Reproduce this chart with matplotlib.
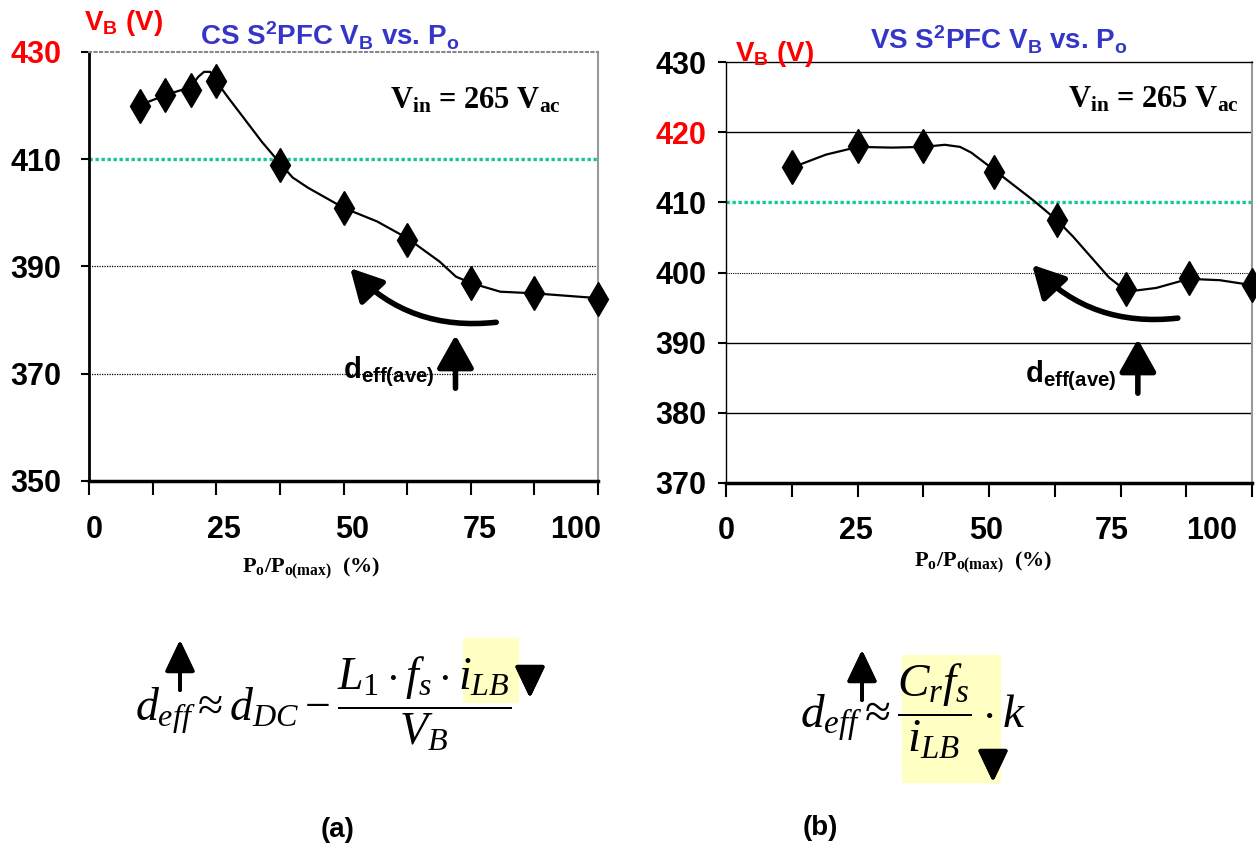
import matplotlib; matplotlib.use("Agg")
import matplotlib.pyplot as plt
from matplotlib.patches import Rectangle

plt.rcParams["font.family"] = ["Liberation Sans", "DejaVu Sans"]
plt.rcParams["mathtext.fontset"] = "custom"
plt.rcParams["mathtext.rm"] = "Liberation Serif"
plt.rcParams["mathtext.it"] = "Liberation Serif:italic"
plt.rcParams["mathtext.bf"] = "Liberation Serif:bold"
plt.rcParams["mathtext.sf"] = "Liberation Sans:bold"

W, H = 1256, 849
RED, BLUE, TEAL, YEL = "#FF0000", "#3535C8", "#12C79A", "#FFFFC4"

# ---- data ----
# (a) CS S2PFC: measured points and the drawn curve
cs_x = [10, 15, 20, 25, 37.5, 50, 62.5, 75, 87.5, 100]
cs_vb = [420, 422, 423, 424.5, 409, 401, 395, 387, 385, 384]
cs_line_x = [10, 15.1, 19.8, 21.5, 22.6, 23.8, 24.8, 27.5, 30.4, 34, 37.5, 40, 43, 50.1,
             56.6, 62.5, 68.9, 72.1, 75.1, 80.8, 87.4, 100]
cs_line_vb = [420.1, 422.0, 423.4, 425.4, 426.3, 426.3, 424.8, 421.3, 417.7, 413.2, 409.3, 406.6,
              404.7, 400.9, 398.4, 395.3, 390.9, 388.1, 386.9, 385.3, 385.0, 384.1]
cs_yticks = [350, 370, 390, 410, 430]

# (b) VS S2PFC
vs_x = [12.5, 25, 37.5, 51, 63, 76, 88, 100]
vs_vb = [415, 418, 418, 414.3, 407.5, 397.6, 399.2, 398.2]
vs_line_x = [12.7, 19, 25.1, 31.6, 37.5, 41.6, 44.5, 46.6, 48.9, 51.5, 58.4, 63, 66, 72.8,
             75, 77.6, 81.8, 88, 93.9, 100]
vs_line_vb = [415.0, 416.8, 417.9, 417.8, 417.9, 418.2, 417.9, 417.1, 415.8, 414.3, 410.3, 407.4,
              405.1, 399.3, 398.0, 397.4, 397.8, 399.1, 398.9, 398.2]
vs_yticks = [370, 380, 390, 400, 410, 420, 430]

x_ticks = [0, 12.5, 25, 37.5, 50, 62.5, 75, 87.5, 100]
x_labels = ["0", "25", "50", "75", "100"]
cs_label_pos = [1, 26.5, 51.7, 76.8, 95.7]
vs_label_pos = [0, 24.7, 49.4, 73.4, 92.4]
target_vb = 410

def fx(px): return px / W
def fy(py): return 1 - py / H

fig = plt.figure(figsize=(12.56, 8.49), dpi=100)

def panel(rect, x, y, lx, ly, ylim, yticks, red_tick, label_pos, ypad):
    ax = fig.add_axes(rect)
    ax.set_xlim(0, 100); ax.set_ylim(*ylim)
    ax.plot(lx, ly, color="black", lw=1.6, zorder=3, clip_on=False)
    ax.plot(x, y, ls="none", marker="d", ms=17, color="black", zorder=4, clip_on=False)
    ax.axhline(target_vb, color=TEAL, lw=2.4, ls=(0, (1, 0.8)), zorder=2)
    ax.set_xticks(x_ticks); ax.set_xticklabels([])
    ax.set_yticks(yticks)
    ax.set_yticklabels([str(t) for t in yticks], fontsize=22, fontweight="bold")
    for lab, t in zip(ax.get_yticklabels(), yticks):
        if t == red_tick: lab.set_color(RED)
    ax.tick_params(axis="x", direction="out", length=10, width=1.5)
    ax.tick_params(axis="y", direction="out", length=6, width=1.5, pad=ypad)
    for p, s in zip(label_pos, x_labels):
        ax.text(p, -0.115, s, transform=ax.get_xaxis_transform(), ha="center", va="center",
                fontsize=22, fontweight="bold")
    ax.spines["bottom"].set_linewidth(2.5)
    ax.spines["right"].set_color("#999999"); ax.spines["right"].set_linewidth(1.5)
    return ax

curved = dict(arrowstyle="-|>,head_length=0.75,head_width=0.4", lw=4, color="black",
              connectionstyle="arc3,rad=-0.25", shrinkA=0, shrinkB=0, mutation_scale=26)
straight = dict(arrowstyle="-|>,head_length=0.8,head_width=0.45", lw=4, color="black",
                shrinkA=0, shrinkB=0, mutation_scale=25)

# ---- (a) CS S2PFC ----
ax1 = panel([fx(89), fy(481), (598 - 89) / W, (481 - 52) / H], cs_x, cs_vb, cs_line_x, cs_line_vb,
            (350, 430), cs_yticks, 430, cs_label_pos, 14)
ax1.spines["left"].set_linewidth(2)
ax1.spines["top"].set_color("#888888"); ax1.spines["top"].set_linestyle(":"); ax1.spines["top"].set_linewidth(1.5)
for g in (390, 370):
    ax1.axhline(g, color="black", lw=0.9, ls=(0, (1, 1)), zorder=1)
ax1.annotate("", xy=(51.3, 389.7), xytext=(80, 379.6), arrowprops=curved)
ax1.annotate("", xy=(72, 377.2), xytext=(72, 367.3), arrowprops=straight)
ax1.text(49.9, 370.3, r"d$\mathsf{_{eff(ave)}}$", fontsize=21, fontweight="bold", ha="left", va="center")
ax1.text(59.1, 421, r"$\mathbf{V_{in}}$ = 265 $\mathbf{V_{ac}}$", family="Liberation Serif",
         fontsize=22, fontweight="bold", ha="left", va="center")

# ---- (b) VS S2PFC ----
ax2 = panel([fx(726), fy(483), (1252 - 726) / W, (483 - 62) / H], vs_x, vs_vb, vs_line_x, vs_line_vb,
            (370, 430), vs_yticks, 420, vs_label_pos, 8)
ax2.spines["left"].set_linewidth(1)
ax2.spines["top"].set_linewidth(1)
for g in (420, 390, 380):
    ax2.axhline(g, color="black", lw=1, zorder=1)
ax2.axhline(400, color="black", lw=0.8, ls=(0, (1, 1)), zorder=1)
ax2.annotate("", xy=(58.2, 401.1), xytext=(85.9, 393.5), arrowprops=curved)
ax2.annotate("", xy=(78.3, 390.5), xytext=(78.3, 382.8), arrowprops=straight)
ax2.text(56.8, 385.3, r"d$\mathsf{_{eff(ave)}}$", fontsize=21, fontweight="bold", ha="left", va="center")
ax2.text(65.0, 424.6, r"$\mathbf{V_{in}}$ = 265 $\mathbf{V_{ac}}$", family="Liberation Serif",
         fontsize=22, fontweight="bold", ha="left", va="center")

# ---- titles and axis labels ----
fig.text(fx(84), fy(30), r"V$\mathsf{_B}$ (V)", color=RED, fontsize=20, fontweight="bold", va="baseline")
fig.text(fx(200), fy(45), r"CS $\mathsf{S^2}$PFC V$\mathsf{_B}$ vs. P$\mathsf{_o}$", color=BLUE,
         fontsize=20, fontweight="bold", va="baseline")
fig.text(fx(735), fy(61), r"V$\mathsf{_B}$ (V)", color=RED, fontsize=20, fontweight="bold", va="baseline")
fig.text(fx(870), fy(50), r"VS $\mathsf{S^2}$PFC V$\mathsf{_B}$ vs. P$\mathsf{_o}$", color=BLUE,
         fontsize=20, fontweight="bold", va="baseline")
xlab = r"$\mathbf{P_o/P_{o(max)}}$  (%)"
fig.text(fx(311), fy(568), xlab, family="Liberation Serif", fontsize=16, fontweight="bold", ha="center", va="center")
fig.text(fx(983), fy(562), xlab, family="Liberation Serif", fontsize=16, fontweight="bold", ha="center", va="center")

# ---- formulas ----
fig.add_artist(Rectangle((fx(463), fy(702)), (518 - 463) / W, (702 - 638) / H, color=YEL, zorder=0))
fig.add_artist(Rectangle((fx(902), fy(782)), (1000 - 902) / W, (782 - 655) / H, color=YEL, zorder=0))
fig.text(fx(135), fy(704), r"$d_{eff} \approx d_{DC} - \dfrac{L_1 \cdot f_s \cdot i_{LB}}{V_B}$",
         fontsize=33, ha="left", va="center")
fig.text(fx(800), fy(711), r"$d_{eff} \approx \dfrac{C_r f_s}{i_{LB}} \cdot k$",
         fontsize=34, ha="left", va="center")

def farrow(x, y0, y1):
    fig.add_artist(plt.annotate("", xy=(fx(x), fy(y1)), xytext=(fx(x), fy(y0)), xycoords="figure fraction",
                                arrowprops=dict(arrowstyle="-|>,head_length=0.8,head_width=0.38", lw=2.8,
                                                color="black", shrinkA=0, shrinkB=0, mutation_scale=24)))

farrow(180, 690, 640)
farrow(530, 668, 698)
farrow(862, 700, 650)
farrow(993, 755, 782)

fig.text(fx(338), fy(830), "(a)", fontsize=20, fontweight="bold", ha="center", va="center")
fig.text(fx(820), fy(828), "(b)", fontsize=20, fontweight="bold", ha="center", va="center")

fig.savefig("out.png", dpi=100)
